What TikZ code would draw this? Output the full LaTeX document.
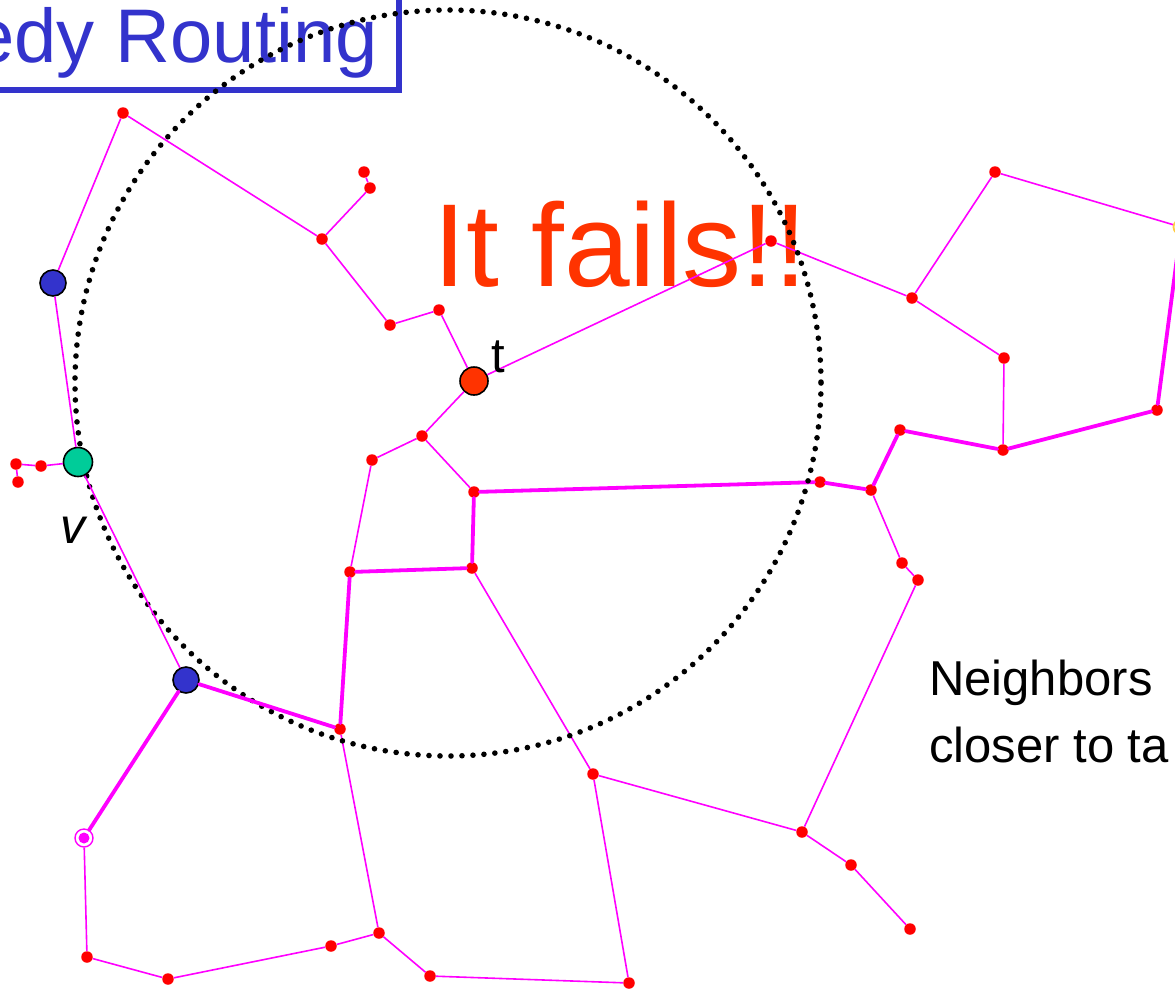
\documentclass[tikz,border=0pt]{standalone}
\usepackage{fontspec}
\setmainfont{Liberation Sans}
\definecolor{titleblue}{HTML}{3333CC}
\definecolor{failred}{HTML}{FF3300}
\definecolor{vgreen}{HTML}{00CC99}
\definecolor{edgemag}{HTML}{FF00FF}
\definecolor{dotred}{HTML}{FF0000}
\definecolor{ringyellow}{HTML}{FFCC44}
\tikzset{
  thinedge/.style={draw=edgemag, line width=1.6pt},
  thickedge/.style={draw=edgemag, line width=3.8pt, line cap=round},
  rdot/.style={circle, fill=dotred, inner sep=0pt, minimum size=11.5pt},
  bignode/.style={circle, draw=black, line width=1.6pt, inner sep=0pt, minimum size=26pt},
  ringnode/.style={circle, draw=edgemag, line width=1.4pt, inner sep=0pt, minimum size=18pt},
  yring/.style={circle, draw=ringyellow, line width=1.8pt, inner sep=0pt, minimum size=15pt},
  dotcircle/.style={draw=black, line width=5.6pt, line cap=round, dash pattern=on 0pt off 11pt},
  lbl/.style={inner sep=0pt, font=\fontsize{49}{67}\selectfont},
}
\begin{document}
\begin{tikzpicture}[x=1pt, y=-1pt]
\useasboundingbox (0,0) rectangle (1175,989);
\clip (0,0) rectangle (1175,989);
\fill[white] (0,0) rectangle (1175,989);

% big label behind the graph
\node[anchor=base west, inner sep=0pt, text=failred, font=\fontsize{118}{118}\selectfont] (fails) at (433,286) {It fails!!};

% title
\node[anchor=base east, inner sep=0pt, text=titleblue, font=\fontsize{76}{76}\selectfont] (title) at (378,62) {Greedy Routing};
\draw[draw=titleblue, line width=5.5pt] (-250,-60) rectangle (399,90);

% red dots
\node[rdot] (A) at (123,113) {};
\node[rdot] (D) at (41,466) {};
\node[rdot] (E) at (16,464) {};
\node[rdot] (F) at (18,482) {};
\node[rdot] (I) at (87,957) {};
\node[rdot] (J) at (168,979) {};
\node[rdot] (K) at (331,946) {};
\node[rdot] (L) at (379,933) {};
\node[rdot] (M) at (430,976) {};
\node[rdot] (N) at (629,983) {};
\node[rdot] (O) at (340,729) {};
\node[rdot] (P) at (350,572) {};
\node[rdot] (Q) at (472,568) {};
\node[rdot] (R) at (474,492) {};
\node[rdot] (S) at (422,436) {};
\node[rdot] (T) at (372,460) {};
\node[rdot] (V) at (439,310) {};
\node[rdot] (W) at (390,325) {};
\node[rdot] (X) at (322,239) {};
\node[rdot] (Y) at (370,188) {};
\node[rdot] (Z) at (364,172) {};
\node[rdot] (AA) at (593,774) {};
\node[rdot] (AB) at (802,832) {};
\node[rdot] (AC) at (851,865) {};
\node[rdot] (AD) at (910,929) {};
\node[rdot] (AE) at (820,482) {};
\node[rdot] (AF) at (871,490) {};
\node[rdot] (AG) at (900,430) {};
\node[rdot] (AH) at (1003,450) {};
\node[rdot] (AI) at (1157,410) {};
\node[rdot] (AK) at (995,172) {};
\node[rdot] (AL) at (912,298) {};
\node[rdot] (AM) at (1004,358) {};
\node[rdot] (AN) at (771,241) {};
\node[rdot] (AO) at (902,563) {};
\node[rdot] (AP) at (918,580) {};
\node[yring] (AJ) at (1181,227) {};

% thin edges
\draw[thinedge] (A) -- (X);
\draw[thinedge] (X) -- (Y);
\draw[thinedge] (Y) -- (Z);
\draw[thinedge] (X) -- (W);
\draw[thinedge] (W) -- (V);
\draw[thinedge] (D) -- (E);
\draw[thinedge] (E) -- (F);
\draw[thinedge] (S) -- (T);
\draw[thinedge] (S) -- (R);
\draw[thinedge] (T) -- (P);
\draw[thinedge] (Q) -- (AA);
\draw[thinedge] (AA) -- (AB);
\draw[thinedge] (AB) -- (AC);
\draw[thinedge] (AC) -- (AD);
\draw[thinedge] (AB) -- (AP);
\draw[thinedge] (AP) -- (AO);
\draw[thinedge] (AO) -- (AF);
\draw[thinedge] (AA) -- (N);
\draw[thinedge] (O) -- (L);
\draw[thinedge] (L) -- (K);
\draw[thinedge] (K) -- (J);
\draw[thinedge] (J) -- (I);
\draw[thinedge] (L) -- (M);
\draw[thinedge] (M) -- (N);
\draw[thinedge] (AN) -- (AL);
\draw[thinedge] (AL) -- (AK);
\draw[thinedge] (AK) -- (AJ);
\draw[thinedge] (AL) -- (AM);
\draw[thinedge] (AM) -- (AH);

% thick edges
\draw[thickedge] (O) -- (P);
\draw[thickedge] (P) -- (Q);
\draw[thickedge] (Q) -- (R);
\draw[thickedge] (R) -- (AE);
\draw[thickedge] (AE) -- (AF);
\draw[thickedge] (AF) -- (AG);
\draw[thickedge] (AG) -- (AH);
\draw[thickedge] (AH) -- (AI);
\draw[thickedge] (AI) -- (AJ);

% dotted range circle
\draw[dotcircle] (448,383) circle (373);

% special nodes
\node[bignode, fill=titleblue] (B) at (53,283) {};
\node[bignode, fill=vgreen, minimum size=29pt] (C) at (78,462) {};
\node[bignode, fill=titleblue] (G) at (186,680) {};
\node[bignode, fill=failred, minimum size=28pt] (U) at (474,381) {};
\node[ringnode] (H) at (84,838) {};
\fill[edgemag] (H.center) circle (5.5pt);

\draw[thinedge] (A) -- (B);
\draw[thinedge] (B) -- (C);
\draw[thinedge] (C) -- (D);
\draw[thinedge] (C) -- (G);
\draw[thinedge] (V) -- (U);
\draw[thinedge] (U) -- (S);
\draw[thinedge] (U) -- (AN);
\draw[thinedge] (H) -- (I);
\draw[thickedge] (G) -- (H);
\draw[thickedge] (G) -- (O);

% labels
\node[lbl, anchor=base west] (tlabel) at (491,372) {t};
\node[lbl, anchor=base west, font=\fontsize{50}{67}\selectfont\itshape] (vlabel) at (60,543) {v};
\node[lbl, anchor=base west] (nb1) at (929,695) {Neighbors};
\node[lbl, anchor=base west] (nb2) at (929,762) {closer to ta};
\end{tikzpicture}
\end{document}
